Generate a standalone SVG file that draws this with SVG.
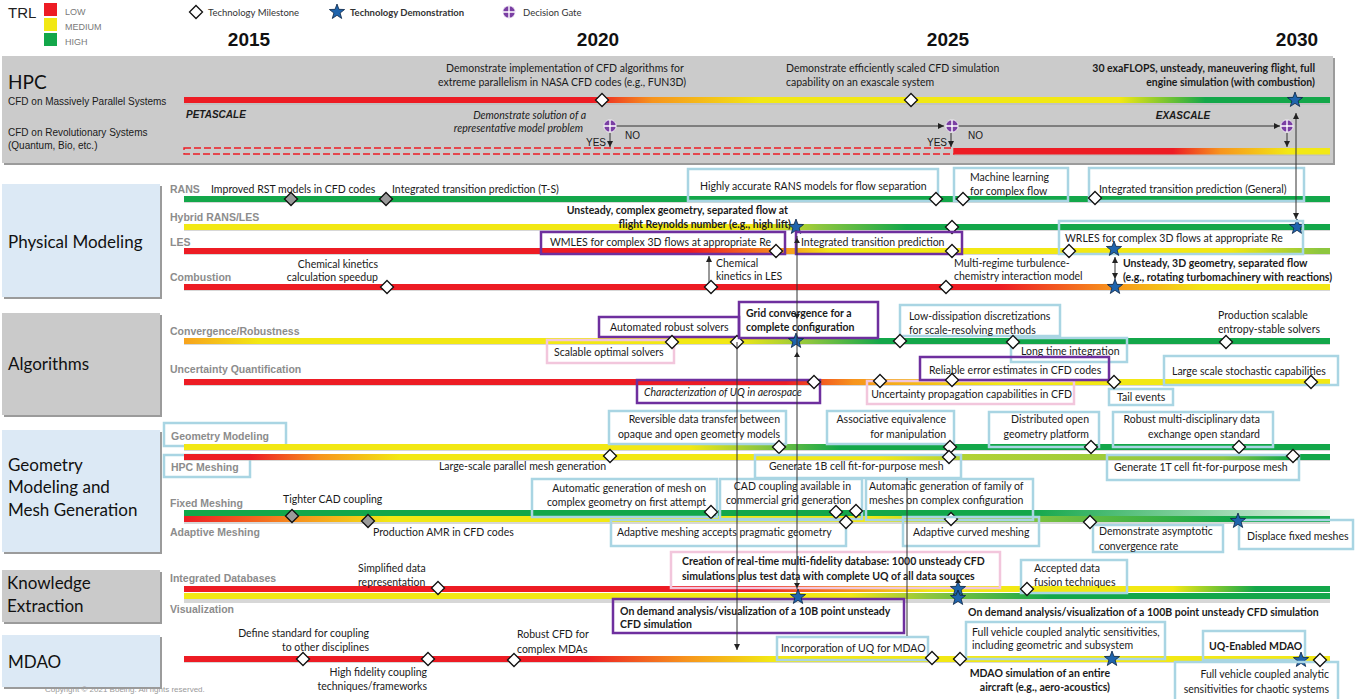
<svg xmlns="http://www.w3.org/2000/svg" width="1359" height="699" viewBox="0 0 1359 699">
<style>
  .cat { font-family: Lato, "Open Sans", sans-serif; font-size: 17px; fill: #111; }
  .row { font-family: "Liberation Sans", Arial, sans-serif; font-weight: bold; font-size: 10.5px; fill: #8c8c8c; }
  .t { font-family: Lato, "Liberation Sans", sans-serif; font-size: 10.5px; fill: #1a1a1a; }
  .a { font-family: "Liberation Sans", Arial, sans-serif; font-size: 10px; fill: #1a1a1a; }
  .b { font-weight: bold; }
  .i { font-style: italic; }
  .e { text-anchor: end; }
  .m { text-anchor: middle; }
  .yr { font-family: "Liberation Sans", Arial, sans-serif; font-weight: bold; font-size: 19px; fill: #111; text-anchor: middle; }
  .lg { font-family: Lato, "Liberation Sans", sans-serif; font-size: 9.5px; fill: #333; }
  .bl { fill: none; stroke: #a9d5e3; stroke-width: 2.5; }
  .pu { fill: none; stroke: #6e2f9e; stroke-width: 2.5; }
  .pk { fill: none; stroke: #f2c6dc; stroke-width: 2.5; }
  .conn { fill: none; stroke: #333; stroke-width: 1; }
  .sh { fill: #bcbcbc; opacity: 0.6; }
  .boxsh { fill: #9b9b9b; }
  .lb { fill: #dce9f5; }
  .gr { fill: #cacaca; }
</style>
<defs>
  <path id="dia" d="M0,-6.5 L6.5,0 L0,6.5 L-6.5,0Z" fill="#fff" stroke="#111" stroke-width="1.3"/>
  <path id="diag" d="M0,-6.5 L6.5,0 L0,6.5 L-6.5,0Z" fill="#9a9a9a" stroke="#111" stroke-width="1.3"/>
  <path id="star" d="M0,-8 L1.94,-2.67 L7.61,-2.47 L3.14,1.02 L4.70,6.47 L0,3.3 L-4.70,6.47 L-3.14,1.02 L-7.61,-2.47 L-1.94,-2.67Z" fill="#1f64ad" stroke="#0b2545" stroke-width="0.8"/>
  <g id="gate">
    <circle r="6.2" fill="#7a3fa3" stroke="#fff" stroke-width="0.8"/>
    <path d="M-6,0 H6 M0,-6 V6" stroke="#fff" stroke-width="1.4"/>
  </g>
  <path id="tu" d="M0,0 L3,5 L-3,5Z" fill="#222"/>
  <path id="td" d="M0,0 L3,-5 L-3,-5Z" fill="#222"/>
  <marker id="ah" viewBox="0 0 10 10" refX="10" refY="5" markerWidth="6" markerHeight="6" orient="auto-start-reverse">
    <path d="M0,0 L10,5 L0,10Z" fill="#222"/>
  </marker>

  <linearGradient id="g-hpc1" gradientUnits="userSpaceOnUse" x1="0" y1="0" x2="1359" y2="0">
    <stop offset="0.436" stop-color="#ed1c24"/><stop offset="0.48" stop-color="#f7941d"/>
    <stop offset="0.559" stop-color="#f2e814"/><stop offset="0.824" stop-color="#f2e814"/>
    <stop offset="0.887" stop-color="#13a74a"/>
  </linearGradient>
  <linearGradient id="g-hpc2" gradientUnits="userSpaceOnUse" x1="0" y1="0" x2="1359" y2="0">
    <stop offset="0.863" stop-color="#ed1c24"/><stop offset="0.898" stop-color="#f7941d"/>
    <stop offset="0.948" stop-color="#f2e814"/>
  </linearGradient>
  <linearGradient id="g-hyb" gradientUnits="userSpaceOnUse" x1="0" y1="0" x2="1359" y2="0">
    <stop offset="0.559" stop-color="#f2e814"/><stop offset="0.603" stop-color="#8dc63f"/>
    <stop offset="0.667" stop-color="#13a74a"/>
  </linearGradient>
  <linearGradient id="g-les" gradientUnits="userSpaceOnUse" x1="0" y1="0" x2="1359" y2="0">
    <stop offset="0.508" stop-color="#ed1c24"/><stop offset="0.577" stop-color="#f7941d"/>
    <stop offset="0.611" stop-color="#f2e814"/><stop offset="0.905" stop-color="#f2e814"/>
    <stop offset="0.971" stop-color="#8dc63f"/>
  </linearGradient>
  <linearGradient id="g-comb" gradientUnits="userSpaceOnUse" x1="0" y1="0" x2="1359" y2="0">
    <stop offset="0.736" stop-color="#ed1c24"/><stop offset="0.819" stop-color="#f7941d"/>
    <stop offset="0.887" stop-color="#f2e814"/>
  </linearGradient>
  <linearGradient id="g-conv" gradientUnits="userSpaceOnUse" x1="0" y1="0" x2="1359" y2="0">
    <stop offset="0.135" stop-color="#f7a21d"/><stop offset="0.191" stop-color="#f2e814"/>
    <stop offset="0.542" stop-color="#f2e814"/><stop offset="0.596" stop-color="#8dc63f"/>
    <stop offset="0.648" stop-color="#13a74a"/>
  </linearGradient>
  <linearGradient id="g-uq" gradientUnits="userSpaceOnUse" x1="0" y1="0" x2="1359" y2="0">
    <stop offset="0.578" stop-color="#ed1c24"/><stop offset="0.628" stop-color="#f7941d"/>
    <stop offset="0.736" stop-color="#f2e814"/>
  </linearGradient>
  <linearGradient id="g-geo" gradientUnits="userSpaceOnUse" x1="0" y1="0" x2="1359" y2="0">
    <stop offset="0.508" stop-color="#f2e814"/><stop offset="0.559" stop-color="#8dc63f"/>
    <stop offset="0.618" stop-color="#13a74a"/>
  </linearGradient>
  <linearGradient id="g-hpcm" gradientUnits="userSpaceOnUse" x1="0" y1="0" x2="1359" y2="0">
    <stop offset="0.185" stop-color="#ed1c24"/><stop offset="0.235" stop-color="#f7941d"/>
    <stop offset="0.294" stop-color="#f2e814"/><stop offset="0.648" stop-color="#f2e814"/>
    <stop offset="0.706" stop-color="#b3d234"/><stop offset="0.9" stop-color="#8dc63f"/>
    <stop offset="0.949" stop-color="#13a74a"/>
  </linearGradient>
  <linearGradient id="g-fix" gradientUnits="userSpaceOnUse" x1="0" y1="0" x2="1359" y2="0">
    <stop offset="0.758" stop-color="#13a74a"/><stop offset="0.979" stop-color="#e4f3e7"/>
  </linearGradient>
  <linearGradient id="g-adp" gradientUnits="userSpaceOnUse" x1="0" y1="0" x2="1359" y2="0">
    <stop offset="0.135" stop-color="#ed1c24"/><stop offset="0.221" stop-color="#f7941d"/>
    <stop offset="0.287" stop-color="#f2e814"/><stop offset="0.64" stop-color="#f2e814"/>
    <stop offset="0.706" stop-color="#a6cc3a"/><stop offset="0.905" stop-color="#13a74a"/>
  </linearGradient>
  <linearGradient id="g-db" gradientUnits="userSpaceOnUse" x1="0" y1="0" x2="1359" y2="0">
    <stop offset="0.554" stop-color="#ed1c24"/><stop offset="0.628" stop-color="#f7941d"/>
    <stop offset="0.684" stop-color="#f2e814"/><stop offset="0.863" stop-color="#f2e814"/>
    <stop offset="0.924" stop-color="#13a74a"/>
  </linearGradient>
  <linearGradient id="g-viz" gradientUnits="userSpaceOnUse" x1="0" y1="0" x2="1359" y2="0">
    <stop offset="0.625" stop-color="#f2e814"/><stop offset="0.684" stop-color="#8dc63f"/>
    <stop offset="0.773" stop-color="#13a74a"/>
  </linearGradient>
  <linearGradient id="g-mdao" gradientUnits="userSpaceOnUse" x1="0" y1="0" x2="1359" y2="0">
    <stop offset="0.431" stop-color="#ed1c24"/><stop offset="0.505" stop-color="#f7941d"/>
    <stop offset="0.567" stop-color="#f2e814"/>
  </linearGradient>
</defs>

<rect width="1359" height="699" fill="#fff"/>

<!-- Legend -->
<g id="legend">
  <text x="8" y="18" font-family="Liberation Sans, Arial, sans-serif" font-size="15" fill="#222">TRL</text>
  <rect x="44" y="3" width="13" height="13" fill="#ed1c24"/>
  <rect x="44" y="18" width="13" height="13" fill="#f2e814"/>
  <rect x="44" y="33" width="13" height="13" fill="#13a74a"/>
  <text x="65" y="15" font-family="Liberation Sans, Arial, sans-serif" font-size="9" fill="#7a7a7a">LOW</text>
  <text x="65" y="30" font-family="Liberation Sans, Arial, sans-serif" font-size="9" fill="#7a7a7a">MEDIUM</text>
  <text x="65" y="45" font-family="Liberation Sans, Arial, sans-serif" font-size="9" fill="#7a7a7a">HIGH</text>
  <use href="#dia" x="196" y="12"/>
  <text class="lg" x="208" y="15.5">Technology Milestone</text>
  <use href="#star" x="337" y="12"/>
  <text class="lg b" x="350" y="15.5" fill="#111">Technology Demonstration</text>
  <use href="#gate" x="509" y="12"/>
  <text class="lg" x="523" y="15.5">Decision Gate</text>
</g>

<!-- Years -->
<g id="years">
  <text class="yr" x="249" y="46">2015</text>
  <text class="yr" x="598" y="46">2020</text>
  <text class="yr" x="948" y="46">2025</text>
  <text class="yr" x="1297" y="46">2030</text>
</g>

<!-- HPC panel -->
<g id="hpc">
  <rect x="4" y="58" width="1331" height="107" class="boxsh"/>
  <rect x="2" y="56" width="1331" height="107" fill="#cbcbcb"/>
  <text x="8" y="89" font-family="Lato, sans-serif" font-size="19" fill="#111">HPC</text>
  <text class="a" x="8" y="105">CFD on Massively Parallel Systems</text>
  <text class="a" x="8" y="136">CFD on Revolutionary Systems</text>
  <text class="a" x="8" y="149">(Quantum,  Bio, etc.)</text>
  <text class="a b i" x="186" y="118" font-size="10.5">PETASCALE</text>
  <text class="a b i m" x="1183" y="119" font-size="10.5">EXASCALE</text>
  <rect x="184" y="99" width="1146" height="6" class="sh"/>
  <rect x="184" y="97" width="1146" height="6" fill="url(#g-hpc1)"/>
  <rect x="184" y="148" width="770" height="6" fill="none" stroke="#ed1c24" stroke-width="1.4" stroke-dasharray="7 3"/>
  <rect x="954" y="150" width="376" height="6" class="sh"/>
  <rect x="954" y="148" width="376" height="6.5" fill="url(#g-hpc2)"/>
  <text class="t m" x="565" y="72">Demonstrate implementation  of CFD algorithms for</text>
  <text class="t m" x="562" y="86">extreme parallelism  in NASA CFD codes (e.g., FUN3D)</text>
  <text class="t" x="786" y="72">Demonstrate efficiently scaled CFD simulation</text>
  <text class="t" x="786" y="86">capability on an exascale system</text>
  <text class="t b e" x="1315" y="72">30 exaFLOPS, unsteady, maneuvering flight, full</text>
  <text class="t b e" x="1315" y="86">engine simulation (with combustion)</text>
  <text class="t i e" x="586" y="119">Demonstrate solution of a</text>
  <text class="t i e" x="583" y="132">representative model problem</text>
  <text class="a e" x="606" y="146" font-size="8.5">YES</text>
  <text class="a" x="625" y="139" font-size="8.5">NO</text>
  <text class="a e" x="947" y="146" font-size="8.5">YES</text>
  <text class="a" x="968" y="139" font-size="8.5">NO</text>
  <use href="#dia" x="602" y="100"/>
  <use href="#dia" x="911" y="100"/>
  <use href="#star" x="1295" y="100"/>
</g>

<!-- Physical Modeling -->
<g id="physical-modeling">
  <rect x="4" y="186" width="158" height="113" class="boxsh"/>
  <rect x="2" y="184" width="158" height="113" class="lb"/>
  <text class="cat" x="8" y="248">Physical Modeling</text>
  <text class="row" x="170" y="193">RANS</text>
  <text class="row" x="170" y="221">Hybrid RANS/LES</text>
  <text class="row" x="170" y="246">LES</text>
  <text class="row" x="170" y="281">Combustion</text>
  <rect x="184" y="198" width="1146" height="5" class="sh"/>
  <rect x="184" y="196" width="1146" height="6" fill="#13a74a"/>
  <rect x="184" y="226" width="1146" height="5" class="sh"/>
  <rect x="184" y="224" width="1146" height="6" fill="url(#g-hyb)"/>
  <rect x="184" y="250" width="1146" height="5" class="sh"/>
  <rect x="184" y="248" width="1146" height="6" fill="url(#g-les)"/>
  <rect x="184" y="286" width="1146" height="5" class="sh"/>
  <rect x="184" y="284" width="1146" height="6" fill="url(#g-comb)"/>
</g>

<g id="pm-rans-rst"><text class="t" x="211" y="193">Improved RST models in CFD codes</text><use href="#diag" x="291" y="199"/></g>
<g id="pm-rans-ts"><text class="t" x="392" y="193">Integrated transition prediction (T-S)</text><use href="#diag" x="386" y="199"/></g>
<g id="pm-rans-sep"><rect class="bl" x="688" y="169" width="250" height="32"/><text class="t" x="700" y="190">Highly  accurate RANS models for flow separation</text><use href="#dia" x="936" y="199"/></g>
<g id="pm-rans-ml"><rect class="bl" x="954" y="168" width="114" height="33"/><text class="t" x="970" y="181">Machine learning</text><text class="t" x="970" y="195">for complex flow</text><use href="#dia" x="963" y="199"/></g>
<g id="pm-rans-gen"><rect class="bl" x="1089" y="168" width="215" height="33"/><text class="t" x="1099" y="193">Integrated transition prediction (General)</text><use href="#dia" x="1095" y="198"/></g>
<g id="pm-hyb-lift"><text class="t b e" x="788" y="214">Unsteady, complex geometry, separated flow at</text><text class="t b e" x="791" y="228">flight Reynolds number (e.g., high lift)</text><use href="#star" x="796" y="227"/></g>
<g id="pm-hyb-2025"><use href="#dia" x="952" y="227"/></g>
<g id="pm-hyb-2030"><use href="#star" x="1297" y="227"/></g>
<g id="pm-les-wm"><rect class="pu" x="541" y="232" width="244" height="22"/><text class="t" x="550" y="246">WMLES for complex 3D flows at appropriate Re</text><use href="#dia" x="776" y="251"/></g>
<g id="pm-les-tr"><rect class="pu" x="796" y="232" width="166" height="22"/><text class="t" x="801" y="246">Integrated transition prediction</text><use href="#dia" x="952" y="251"/></g>
<g id="pm-les-wr"><rect class="bl" x="1059" y="221" width="244" height="33"/><text class="t" x="1065" y="242">WRLES for complex 3D flows at appropriate Re</text><use href="#dia" x="1069" y="251"/><use href="#star" x="1114" y="249"/></g>
<g id="pm-comb-ck"><text class="t e" x="378" y="268">Chemical kinetics</text><text class="t e" x="378" y="281">calculation speedup</text><use href="#dia" x="387" y="287"/></g>
<g id="pm-comb-les"><text class="t" x="716" y="267">Chemical</text><text class="t" x="716" y="280">kinetics in LES</text><use href="#dia" x="711" y="287"/></g>
<g id="pm-comb-mr"><text class="t" x="954" y="267">Multi-regime turbulence-</text><text class="t" x="954" y="280">chemistry interaction model</text><use href="#dia" x="946" y="287"/></g>
<g id="pm-comb-turbo"><text class="t b" x="1123" y="267">Unsteady, 3D geometry, separated flow</text><text class="t b" x="1123" y="281">(e.g., rotating turbomachinery with reactions)</text><use href="#star" x="1115" y="287"/></g>

<!-- Algorithms -->
<g id="algorithms">
  <rect x="4" y="315" width="158" height="102" class="boxsh"/>
  <rect x="2" y="313" width="158" height="102" class="gr"/>
  <text class="cat" x="8" y="370">Algorithms</text>
  <text class="row" x="170" y="335">Convergence/Robustness</text>
  <text class="row" x="170" y="373">Uncertainty Quantification</text>
  <rect x="184" y="340" width="1146" height="5" class="sh"/>
  <rect x="184" y="338" width="1146" height="6" fill="url(#g-conv)"/>
  <rect x="184" y="381" width="1146" height="5" class="sh"/>
  <rect x="184" y="379" width="1146" height="6" fill="url(#g-uq)"/>
</g>
<g id="al-auto"><rect class="pu" x="599" y="317" width="140" height="20"/><text class="t" x="610" y="331">Automated robust solvers</text><use href="#dia" x="737" y="342"/></g>
<g id="al-grid"><rect class="pu" x="739" y="302" width="139" height="36"/><text class="t b" x="746" y="317" font-size="11">Grid convergence for a</text><text class="t b" x="746" y="331" font-size="11">complete configuration</text><use href="#star" x="796" y="341"/></g>
<g id="al-scal"><rect class="pk" x="547" y="340" width="127" height="23"/><text class="t" x="554" y="356">Scalable optimal solvers</text><use href="#dia" x="672" y="342"/></g>
<g id="al-lowdiss"><rect class="bl" x="900" y="305" width="160" height="31"/><text class="t" x="909" y="320">Low-dissipation discretizations</text><text class="t" x="909" y="334">for scale-resolving methods</text><use href="#dia" x="900" y="341"/></g>
<g id="al-long"><rect class="bl" x="1011" y="338" width="116" height="24"/><text class="t" x="1021" y="355">Long time integration</text><use href="#dia" x="1013" y="342"/></g>
<g id="al-entropy"><text class="t" x="1218" y="319">Production scalable</text><text class="t" x="1218" y="333">entropy-stable solvers</text><use href="#dia" x="1226" y="342"/></g>
<g id="al-uqchar"><rect class="pu" x="637" y="380" width="183" height="23"/><text class="t i" x="644" y="396" font-size="10">Characterization of UQ in aerospace</text><use href="#dia" x="814" y="382"/></g>
<g id="al-uqprop"><rect class="pk" x="867" y="381" width="207" height="23"/><text class="t e" x="1072" y="398">Uncertainty propagation capabilities in CFD</text><use href="#dia" x="880" y="381"/></g>
<g id="al-err"><rect class="pu" x="920" y="357" width="189" height="23"/><text class="t" x="929" y="374">Reliable error estimates in CFD codes</text><use href="#dia" x="952" y="380"/></g>
<g id="al-tail"><rect class="bl" x="1109" y="389" width="64" height="16"/><text class="t" x="1117" y="401">Tail events</text><use href="#dia" x="1114" y="382"/></g>
<g id="al-stoch"><rect class="bl" x="1164" y="356" width="174" height="29"/><text class="t" x="1172" y="375">Large scale stochastic capabilities</text><use href="#dia" x="1311" y="382"/></g>

<!-- Geometry Modeling and Mesh Generation -->
<g id="geometry-mesh">
  <rect x="4" y="432" width="158" height="122" class="boxsh"/>
  <rect x="2" y="430" width="158" height="122" class="lb"/>
  <text class="cat" x="8" y="471">Geometry</text>
  <text class="cat" x="8" y="493">Modeling and</text>
  <text class="cat" x="8" y="516">Mesh Generation</text>
  <rect class="bl" x="164" y="423" width="122" height="23"/>
  <text class="row" x="171" y="440">Geometry Modeling</text>
  <rect class="bl" x="164" y="455" width="86" height="22"/>
  <text class="row" x="171" y="471">HPC Meshing</text>
  <text class="row" x="170" y="507">Fixed Meshing</text>
  <text class="row" x="170" y="536">Adaptive Meshing</text>
  <rect x="184" y="446" width="1146" height="5" class="sh"/>
  <rect x="184" y="444" width="1146" height="6" fill="url(#g-geo)"/>
  <rect x="184" y="456" width="1146" height="5" class="sh"/>
  <rect x="184" y="454" width="1146" height="6" fill="url(#g-hpcm)"/>
  <rect x="184" y="510" width="1146" height="6" fill="url(#g-fix)"/>
  <rect x="184" y="519" width="1146" height="5" class="sh"/>
  <rect x="184" y="516" width="1146" height="6" fill="url(#g-adp)"/>
</g>
<g id="gm-rev"><rect class="bl" x="609" y="411" width="177" height="33"/><text class="t e" x="780" y="423">Reversible  data transfer between</text><text class="t e" x="780" y="438">opaque and open geometry models</text><use href="#dia" x="779" y="447"/></g>
<g id="gm-assoc"><rect class="bl" x="827" y="411" width="127" height="33"/><text class="t e" x="946" y="423">Associative equivalence</text><text class="t e" x="946" y="438">for manipulation</text><use href="#dia" x="950" y="447"/></g>
<g id="gm-dist"><rect class="bl" x="989" y="412" width="110" height="35"/><text class="t e" x="1089" y="423">Distributed open</text><text class="t e" x="1089" y="438">geometry platform</text><use href="#dia" x="1091" y="447"/></g>
<g id="gm-robust"><rect class="bl" x="1113" y="412" width="160" height="35"/><text class="t e" x="1260" y="423">Robust multi-disciplinary data</text><text class="t e" x="1260" y="438">exchange open standard</text><use href="#dia" x="1239" y="447"/></g>
<g id="hm-large"><text class="t e" x="606" y="470">Large-scale parallel mesh generation</text><use href="#dia" x="610" y="456"/></g>
<g id="hm-1b"><rect class="bl" x="755" y="455" width="206" height="23"/><text class="t" x="769" y="470">Generate 1B cell fit-for-purpose mesh</text><use href="#dia" x="949" y="457"/></g>
<g id="hm-1t"><rect class="bl" x="1107" y="455" width="192" height="25"/><text class="t" x="1114" y="471">Generate 1T cell fit-for-purpose mesh</text><use href="#dia" x="1293" y="456"/></g>
<g id="fm-cad"><text class="t" x="283" y="503">Tighter CAD coupling</text><use href="#diag" x="292" y="516"/></g>
<g id="fm-auto"><rect class="bl" x="532" y="479" width="185" height="38"/><text class="t e" x="706" y="492">Automatic generation of mesh on</text><text class="t e" x="706" y="506">complex geometry on first attempt</text><use href="#dia" x="711" y="512"/></g>
<g id="fm-comm"><rect class="bl" x="720" y="479" width="142" height="40"/><text class="t e" x="851" y="490">CAD coupling available in</text><text class="t e" x="851" y="504">commercial grid generation</text><use href="#dia" x="836" y="512"/><use href="#dia" x="856" y="511"/></g>
<g id="fm-family"><rect class="bl" x="866" y="479" width="167" height="41"/><text class="t" x="869" y="490">Automatic generation of family of</text><text class="t" x="869" y="504">meshes on complex configuration</text><use href="#dia" x="951" y="519"/></g>
<g id="am-amr"><text class="t" x="373" y="536">Production AMR in CFD codes</text><use href="#diag" x="368" y="521"/></g>
<g id="am-prag"><rect class="bl" x="611" y="520" width="235" height="26"/><text class="t" x="617" y="536">Adaptive meshing accepts pragmatic geometry</text><use href="#dia" x="846" y="522"/></g>
<g id="am-curved"><rect class="bl" x="903" y="517" width="136" height="29"/><text class="t" x="913" y="536">Adaptive curved meshing</text></g>
<g id="am-asym"><rect class="bl" x="1093" y="525" width="130" height="27"/><text class="t" x="1099" y="535">Demonstrate asymptotic</text><text class="t" x="1099" y="550">convergence rate</text><use href="#dia" x="1090" y="522"/></g>
<g id="am-displace"><rect class="bl" x="1239" y="520" width="114" height="29"/><text class="t" x="1247" y="540">Displace fixed meshes</text><use href="#star" x="1238" y="521"/></g>

<!-- Knowledge Extraction -->
<g id="knowledge-extraction">
  <rect x="4" y="572" width="158" height="52" class="boxsh"/>
  <rect x="2" y="570" width="158" height="52" class="gr"/>
  <text class="cat" x="7" y="589">Knowledge</text>
  <text class="cat" x="7" y="612">Extraction</text>
  <text class="row" x="170" y="582">Integrated Databases</text>
  <text class="row" x="170" y="613">Visualization</text>
  <rect x="184" y="586" width="1146" height="6" fill="url(#g-db)"/>
  <rect x="184" y="599" width="1146" height="4" class="sh"/>
  <rect x="184" y="593" width="1146" height="6" fill="url(#g-viz)"/>
</g>
<g id="ke-simpl"><text class="t" x="358" y="572">Simplified data</text><text class="t" x="358" y="586">representation</text><use href="#dia" x="438" y="588"/></g>
<g id="ke-rtdb"><rect class="pk" x="671" y="552" width="329" height="36"/><text class="t b" x="682" y="565">Creation of real-time multi-fidelity database: 1000 unsteady CFD</text><text class="t b" x="682" y="580">simulations plus test data with complete UQ of all data sources</text><use href="#star" x="958" y="589"/></g>
<g id="ke-fusion"><rect class="bl" x="1021" y="560" width="106" height="33"/><text class="t" x="1034" y="572">Accepted data</text><text class="t" x="1034" y="586">fusion techniques</text><use href="#dia" x="1027" y="589"/></g>
<g id="ke-10b"><rect class="pu" x="613" y="599" width="291" height="34"/><text class="t b" x="620" y="615">On demand analysis/visualization of a 10B point unsteady</text><text class="t b" x="620" y="628">CFD simulation</text><use href="#star" x="798" y="597"/></g>
<g id="ke-100b"><text class="t b" x="968" y="616">On demand analysis/visualization of a 100B point unsteady CFD simulation</text><use href="#star" x="958" y="598"/></g>

<!-- MDAO -->
<g id="mdao">
  <rect x="4" y="637" width="158" height="52" class="boxsh"/>
  <rect x="2" y="635" width="158" height="52" class="lb"/>
  <text class="cat" x="8" y="668">MDAO</text>
  <rect x="184" y="658" width="1146" height="5" class="sh"/>
  <rect x="184" y="656" width="1146" height="6" fill="url(#g-mdao)"/>
</g>
<g id="md-std"><text class="t e" x="369" y="637">Define standard for coupling</text><text class="t e" x="369" y="651">to other disciplines</text><use href="#dia" x="303" y="659"/></g>
<g id="md-hifi"><text class="t e" x="427" y="676">High fidelity coupling</text><text class="t e" x="427" y="690">techniques/frameworks</text><use href="#dia" x="428" y="659"/></g>
<g id="md-robust"><text class="t" x="517" y="638">Robust CFD for</text><text class="t" x="517" y="653">complex MDAs</text><use href="#dia" x="514" y="660"/></g>
<g id="md-uq"><rect class="bl" x="777" y="637" width="151" height="23"/><text class="t" x="781" y="652">Incorporation of UQ for MDAO</text><use href="#dia" x="932" y="658"/></g>
<g id="md-sens"><rect class="bl" x="966" y="622" width="199" height="37"/><text class="t" x="972" y="636">Full vehicle coupled analytic sensitivities,</text><text class="t" x="972" y="649">including geometric and subsystem</text><use href="#dia" x="960" y="659"/></g>
<g id="md-aircraft"><text class="t b e" x="1110" y="677">MDAO simulation of an entire</text><text class="t b e" x="1110" y="691">aircraft (e.g., aero-acoustics)</text><use href="#star" x="1112" y="659"/></g>
<g id="md-uqmdao"><rect class="bl" x="1203" y="631" width="102" height="29"/><text class="t b" x="1209" y="650">UQ-Enabled MDAO</text><use href="#star" x="1301" y="660"/></g>
<g id="md-chaotic"><rect class="bl" x="1175" y="662" width="163" height="40"/><text class="t e" x="1329" y="678">Full vehicle coupled analytic</text><text class="t e" x="1329" y="693">sensitivities for chaotic systems</text><use href="#dia" x="1320" y="660"/></g>

<!-- Connectors -->
<g id="connectors">
  <line class="conn" x1="616" y1="126" x2="944" y2="126" marker-end="url(#ah)"/>
  <line class="conn" x1="958" y1="126" x2="1280" y2="126" marker-end="url(#ah)"/>
  <line class="conn" x1="610" y1="133" x2="610" y2="147" marker-end="url(#ah)"/>
  <line class="conn" x1="951" y1="133" x2="951" y2="147" marker-end="url(#ah)"/>
  <line class="conn" x1="1287" y1="133" x2="1287" y2="147" marker-end="url(#ah)"/>
  <line class="conn" x1="1296" y1="113" x2="1296" y2="219" marker-start="url(#ah)" marker-end="url(#ah)"/>
  <line class="conn" x1="709" y1="283" x2="709" y2="256" marker-end="url(#ah)"/>
  <line class="conn" x1="1115" y1="257" x2="1115" y2="279" marker-start="url(#ah)" marker-end="url(#ah)"/>
  <line class="conn" x1="797" y1="236" x2="797" y2="589" stroke="#555"/>
  <use href="#tu" x="797" y="238"/>
  <use href="#td" x="797" y="319"/>
  <use href="#tu" x="797" y="352"/>
  <use href="#td" x="797" y="588"/>
  <line class="conn" x1="737" y1="342" x2="737" y2="650" stroke="#555" marker-end="url(#ah)"/>
  <line class="conn" x1="907" y1="478" x2="907" y2="636" stroke="#777" stroke-width="1.5"/>
  <use href="#tu" x="958" y="578"/>
</g>

<!-- Gates drawn over the connector ends -->
<g id="decision-gates">
  <use href="#gate" x="610" y="126"/>
  <use href="#gate" x="952" y="126"/>
  <use href="#gate" x="1287" y="126"/>
</g>

<text x="45" y="692" font-family="Liberation Sans, Arial, sans-serif" font-size="8" fill="#9a9a9a">Copyright © 2021 Boeing. All rights reserved.</text>
</svg>
